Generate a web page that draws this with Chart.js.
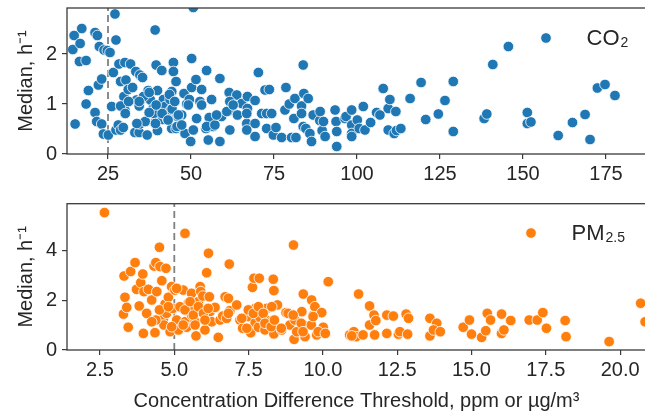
<!DOCTYPE html>
<html>
<head>
<meta charset="utf-8">
<script src="https://cdn.jsdelivr.net/npm/chart.js@4.4.1/dist/chart.umd.min.js"></script>
<style>
  html, body { margin: 0; padding: 0; background: #fff; overflow: hidden; width: 645px; height: 417px; }
  .panel { position: absolute; left: 0; }
  #topPanel { top: 0; }
  #bottomPanel { top: 190px; }
</style>
</head>
<body>
<div class="panel" id="topPanel"><canvas id="co2Chart" width="660" height="190"></canvas></div>
<div class="panel" id="bottomPanel"><canvas id="pmChart" width="660" height="227"></canvas></div>
<script>
// CO2 panel: threshold (ppm) vs median (h-1)
const co2X = [14.8, 14.4, 17.1, 16.6, 16.4, 18.4, 15.1, 18.4, 19.1, 21.1, 21.8, 22.4, 23.8, 24.8, 25.6, 27.1, 27.4, 22.1, 23.1, 21.1,
  21.6, 23.1, 23.6, 25.1, 26.1, 26.6, 27.4, 28.1, 28.8, 29.6, 28.3, 30.1, 31.8, 28.8, 30.4, 29.8, 31.1, 32.4, 30.1, 28.8,
  33.4, 34.6, 35.4, 33.6, 34.4, 35.4, 33.1, 34.4, 34.6, 36.8, 36.4, 37.1, 37.8, 38.6, 39.2, 39.5, 39.9, 39.7, 39.2, 39.9,
  41.2, 41.7, 42.2, 41.5, 42.9, 43.7, 43.9, 44.2, 44.7, 44.7, 45.5, 44.2, 45.5, 46.5, 45.7, 47.2, 47.9, 48.2, 48.7, 49.5,
  50.2, 49.9, 50.7, 50.2, 50.7, 51.5, 51.7, 53.2, 52.7, 54.7, 54.5, 55.2, 55.5, 56.2, 56.7, 58.7, 58.7, 59.2, 61.5, 61.9,
  61.7, 63.8, 64.0, 65.3, 66.8, 67.0, 67.0, 69.3, 70.3, 69.3, 69.3, 71.3, 72.3, 73.6, 72.8, 74.3, 72.8, 74.8, 75.6, 77.3,
  78.6, 78.3, 79.6, 81.3, 81.0, 80.3, 81.6, 83.8, 84.0, 83.3, 83.3, 83.8, 84.6, 85.3, 85.8, 86.3, 86.8, 88.8, 89.5, 90.4,
  35.7, 37.4, 34.4, 38.8, 41.3, 39.5, 44.3, 43.5, 45.1, 46.1, 45.8, 36.2, 33.7, 30.2, 31.2, 37.4, 39.3, 43.1,
  46.2, 47.2, 49.2, 53.2, 54.7, 57.2, 57.7, 60.8, 61.7, 62.7, 66.8, 66.8, 88.9, 89.9,
  93.4, 93.7, 93.9, 93.9, 96.4, 96.7, 98.4, 98.4, 98.4, 98.4, 100.1, 100.7, 101.9, 102.4, 104.1, 105.9, 106.9, 107.9,
  109.4, 109.9, 111.7, 109.4, 111.2, 111.9, 113.2, 116.0, 119.3, 120.7, 124.5, 126.5, 129.0, 129.0, 138.3, 139.1,
  140.9, 145.6, 151.3, 151.3, 152.4, 160.6, 164.9, 168.7, 170.2, 172.4, 174.7, 177.7];
const co2Y = [2.37, 2.09, 2.51, 2.21, 1.85, 1.87, 0.60, 1.00, 1.27, 2.43, 2.37, 2.15, 2.08, 2.07, 2.03, 2.80, 2.28, 1.38, 1.50, 0.83,
  0.65, 0.60, 0.40, 0.38, 0.95, 1.63, 0.48, 0.58, 0.48, 0.53, 1.80, 1.83, 1.80, 1.45, 1.48, 1.15, 1.29, 1.33, 0.88, 0.96,
  1.65, 1.58, 1.53, 1.08, 0.96, 1.11, 0.43, 0.43, 0.60, 0.38, 0.65, 1.27, 1.08, 0.91, 2.48, 1.78, 1.27, 0.78, 0.63, 0.47,
  1.67, 1.09, 0.95, 0.69, 0.71, 1.09, 0.88, 1.25, 1.83, 1.65, 1.45, 0.51, 0.51, 0.55, 0.75, 0.78, 1.21, 0.41, 1.00, 1.09,
  1.91, 0.25, 0.48, 1.33, 2.93, 1.49, 0.71, 1.29, 1.05, 1.67, 0.51, 0.28, 0.73, 1.09, 0.55, 1.51, 0.25, 0.75, 1.23, 0.88,
  0.48, 1.18, 0.78, 1.01, 0.61, 0.91, 1.15, 1.07, 1.63, 0.61, 0.35, 0.81, 1.28, 1.29, 0.81, 0.81, 0.51, 0.38, 0.53, 0.33,
  1.33, 0.88, 1.00, 1.11, 0.71, 0.33, 0.33, 1.78, 1.21, 0.96, 0.81, 0.55, 0.51, 1.11, 0.41, 0.25, 0.78, 0.67, 0.47, 0.35,
  1.15, 1.23, 1.05, 0.81, 0.81, 0.98, 0.90, 1.19, 1.05, 0.75, 0.55, 0.65, 0.61, 0.81, 1.05, 0.83, 0.61, 0.68,
  0.78, 0.58, 0.98, 0.98, 0.55, 0.58, 0.78, 0.85, 1.05, 0.98, 0.81, 0.48, 0.85, 0.65,
  0.88, 0.65, 0.45, 0.15, 0.71, 0.75, 0.88, 0.58, 0.41, 0.35, 0.68, 0.51, 0.95, 0.48, 0.63, 0.83, 0.78, 1.31,
  0.91, 1.09, 0.85, 0.48, 0.41, 0.47, 0.51, 1.11, 1.43, 0.69, 0.80, 1.07, 1.45, 0.45, 0.71, 0.80,
  1.79, 2.15, 0.83, 0.61, 0.64, 0.37, 0.63, 0.79, 0.29, 1.32, 1.39, 1.17];

// PM2.5 panel: threshold (ug/m3) vs median (h-1)
const pmX = [2.65, 3.31, 3.29, 3.34, 3.40, 3.45, 3.53, 3.68, 3.73, 3.82, 3.87, 3.94, 3.96, 3.98, 4.07, 4.13, 4.24, 4.32, 4.38, 4.41,
  4.35, 4.50, 4.52, 4.58, 4.63, 4.65, 4.69, 4.72, 4.74, 4.80, 4.86, 4.91, 4.95, 4.50, 4.38, 4.24, 5.02, 5.08, 5.14, 5.28,
  5.36, 5.30, 5.36, 5.42, 5.47, 5.58, 5.58, 5.64, 5.70, 5.73, 5.81, 5.87, 5.89, 5.96, 6.00, 6.03, 6.09, 6.15, 6.18, 6.20,
  6.26, 6.37, 6.48, 6.54, 6.63, 6.71, 6.76, 6.82, 6.85, 6.87, 7.10, 7.21, 7.30, 7.49, 7.57, 7.60, 7.63, 7.68, 7.72, 7.72,
  7.83, 7.86, 7.88, 8.05, 8.11, 8.16, 8.33, 8.35, 8.31, 8.35, 8.47, 8.61, 8.76, 8.89, 9.01, 9.03, 9.06, 9.12, 9.29, 9.34,
  9.36, 9.40, 9.62, 9.68, 9.73, 9.79, 9.96, 10.01, 10.18,
  5.19, 5.36, 5.53, 5.64, 5.81, 5.98, 6.14, 5.30, 5.70, 6.03, 4.91, 4.80, 5.08, 7.27, 7.49, 7.66, 7.83, 7.99, 8.05, 7.44,
  8.28, 6.82,
  8.26, 8.37, 8.60, 8.83, 9.00, 9.27, 9.33, 9.61, 9.67, 9.84, 10.08, 10.90, 11.04, 11.12, 11.35, 11.20, 11.57, 11.74, 11.57, 11.72,
  10.97, 11.78, 12.15, 12.15, 12.37, 12.54, 12.59, 12.80, 12.88, 12.85, 13.60, 13.60, 13.83, 13.72, 13.95, 14.72, 14.93, 15.00,
  15.34, 15.48, 15.53, 15.64, 16.01, 16.01, 16.09, 16.32, 16.94, 17.21, 17.40, 17.52, 18.15, 18.18, 19.63, 20.69, 20.84];
const pmY = [5.55, 2.99, 1.45, 2.13, 1.72, 0.92, 3.17, 3.53, 2.45, 1.78, 2.72, 3.07, 0.67, 2.36, 1.48, 2.45, 2.02, 3.39, 3.53, 2.36,
  0.70, 4.15, 3.37, 2.80, 1.24, 1.01, 1.86, 3.30, 1.48, 2.13, 0.74, 2.56, 1.68, 1.62, 1.21, 1.14, 2.42, 1.21, 0.81, 1.68,
  4.71, 2.42, 1.14, 0.92, 1.89, 2.29, 1.41, 1.72, 1.14, 0.57, 1.95, 2.56, 2.36, 2.18, 1.59, 0.81, 3.12, 3.91, 2.15, 1.55,
  1.14, 1.72, 0.51, 1.21, 1.37, 2.15, 1.28, 2.09, 3.47, 1.59, 1.82, 1.21, 0.88, 1.35, 0.70, 1.55, 2.53, 2.90, 1.68, 1.10,
  0.92, 2.90, 1.32, 0.81, 1.68, 1.19, 2.86, 2.40, 1.19, 0.65, 1.82, 0.81, 1.51, 1.01, 4.24, 0.43, 1.21, 0.74, 1.55, 2.26,
  1.01, 0.54, 2.02, 1.41, 1.75, 0.61, 1.51, 0.92, 2.76,
  1.75, 1.62, 1.95, 1.41, 1.75, 1.48, 1.68, 1.01, 1.01, 1.21, 0.94, 1.75, 2.49, 1.28, 1.62, 1.48, 1.75, 1.48, 1.08, 0.88,
  1.75, 1.48,
  0.94, 1.21, 0.88, 1.48, 1.41, 1.08, 0.74, 1.01, 1.35, 0.74, 0.67, 0.61, 0.74, 0.54, 0.61, 2.26, 1.78, 0.61, 1.01, 1.41,
  0.57, 1.19, 1.41, 0.67, 1.37, 0.64, 0.74, 1.45, 1.28, 0.64, 1.28, 0.57, 1.08, 0.81, 0.74, 0.92, 1.21, 0.64,
  0.51, 0.78, 1.48, 1.21, 1.45, 0.67, 0.81, 1.19, 1.21, 1.21, 1.51, 0.88, 1.19, 0.54, 0.34, 1.89, 1.14];

const co2Threshold = 25;
const pmThreshold = 5;
const co2XTicks = [25, 50, 75, 100, 125, 150, 175];
const co2YTicks = [0, 1, 2];
const pmXTicks = [2.5, 5, 7.5, 10, 12.5, 15, 17.5, 20];
const pmYTicks = [0, 2, 4];
const co2Range = { xMin: 12.65, xMax: 187.05, yMin: 0, yMax: 2.92 };
const pmRange = { xMin: 1.39, xMax: 20.87, yMin: 0, yMax: 5.91 };

const blue = '#1f77b4';
const orange = '#ff7f0e';
const axisColor = '#3a3a3a';
const textColor = '#262626';
const fontFamily = '"Liberation Sans", Arial, sans-serif';

Chart.defaults.font.family = fontFamily;
Chart.defaults.color = textColor;

const framePlugin = {
  id: 'frame',
  afterDatasetsDraw(chart) {
    const { ctx, chartArea: a } = chart;
    ctx.save();
    ctx.strokeStyle = axisColor;
    ctx.lineWidth = 1.3;
    ctx.strokeRect(a.left, a.top, a.right - a.left, a.bottom - a.top);
    ctx.restore();
  }
};

// legend drawn inside the axes like the matplotlib one
function insideLegend(main, sub, color, dx, dy) {
  return {
    id: 'insideLegend',
    afterDraw(chart) {
      const { ctx, chartArea } = chart;
      const mx = chartArea.left + dx, my = chartArea.top + dy;
      ctx.save();
      ctx.beginPath();
      ctx.arc(mx, my, 5.3, 0, Math.PI * 2);
      ctx.fillStyle = color;
      ctx.fill();
      ctx.strokeStyle = '#fff';
      ctx.lineWidth = 0.8;
      ctx.stroke();
      ctx.fillStyle = textColor;
      ctx.textBaseline = 'alphabetic';
      ctx.textAlign = 'left';
      ctx.font = '22px ' + fontFamily;
      const tx = mx + 40.5, base = my + 7;
      ctx.fillText(main, tx, base);
      const w = ctx.measureText(main).width;
      ctx.font = '14px ' + fontFamily;
      ctx.fillText(sub, tx + w + 1, base + 2);
      ctx.restore();
    }
  };
}

function makeScales(r, xTicks, yTicks, xFmt, xTitle, xHeight) {
  const grid = { display: true, drawOnChartArea: false, drawTicks: true, tickLength: 5, color: axisColor, lineWidth: 1.2 };
  return {
    x: {
      type: 'linear', min: r.xMin, max: r.xMax,
      border: { display: false },
      grid: grid,
      afterBuildTicks: s => { s.ticks = xTicks.map(v => ({ value: v })); },
      ticks: { autoSkip: false, maxRotation: 0, padding: 3, font: { size: 20 }, color: textColor, callback: xFmt },
      title: { display: !!xTitle, text: xTitle, font: { size: 20 }, color: textColor, padding: { top: 0, bottom: 4 } },
      afterFit: s => { s.height = xHeight; s.paddingLeft = 0; s.paddingRight = 0; }
    },
    y: {
      type: 'linear', min: r.yMin, max: r.yMax,
      border: { display: false },
      grid: grid,
      afterBuildTicks: s => { s.ticks = yTicks.map(v => ({ value: v })); },
      ticks: { padding: 5, font: { size: 20 }, color: textColor, callback: v => String(v) },
      title: { display: true, text: 'Median, h\u207B\u00B9', font: { size: 20 }, color: textColor, padding: { top: 14, bottom: 0 } },
      afterFit: s => { s.width = 67; s.paddingTop = 0; s.paddingBottom = 0; }
    }
  };
}

function makeDatasets(xs, ys, color, threshold, r) {
  return [
    {
      type: 'scatter',
      data: xs.map((x, i) => ({ x: x, y: ys[i] })),
      backgroundColor: color,
      borderColor: '#ffffff',
      borderWidth: 0.8,
      pointRadius: 5.3,
      pointHoverRadius: 5.3,
      order: 0
    },
    {
      type: 'line',
      data: [{ x: threshold, y: r.yMin }, { x: threshold, y: r.yMax }],
      borderColor: '#808080',
      borderWidth: 1.8,
      borderDash: [7, 4],
      pointRadius: 0,
      order: 1
    }
  ];
}

new Chart(document.getElementById('co2Chart').getContext('2d'), {
  type: 'scatter',
  data: { datasets: makeDatasets(co2X, co2Y, blue, co2Threshold, co2Range) },
  options: {
    responsive: false,
    animation: false,
    layout: { padding: { top: 8, left: 0, right: 14, bottom: 0 } },
    scales: makeScales(co2Range, co2XTicks, co2YTicks, v => String(v), '', 36),
    plugins: { legend: { display: false }, tooltip: { enabled: false } }
  },
  plugins: [framePlugin, insideLegend('CO', '2', blue, 479, 30)]
});

new Chart(document.getElementById('pmChart').getContext('2d'), {
  type: 'scatter',
  data: { datasets: makeDatasets(pmX, pmY, orange, pmThreshold, pmRange) },
  options: {
    responsive: false,
    animation: false,
    layout: { padding: { top: 13.7, left: 0, right: 14, bottom: 0 } },
    scales: makeScales(pmRange, pmXTicks, pmYTicks, v => v.toFixed(1), 'Concentration Difference Threshold, ppm or \u00B5g/m\u00B3', 67),
    plugins: { legend: { display: false }, tooltip: { enabled: false } }
  },
  plugins: [framePlugin, insideLegend('PM', '2.5', orange, 464, 29.3)]
});
</script>
</body>
</html>
